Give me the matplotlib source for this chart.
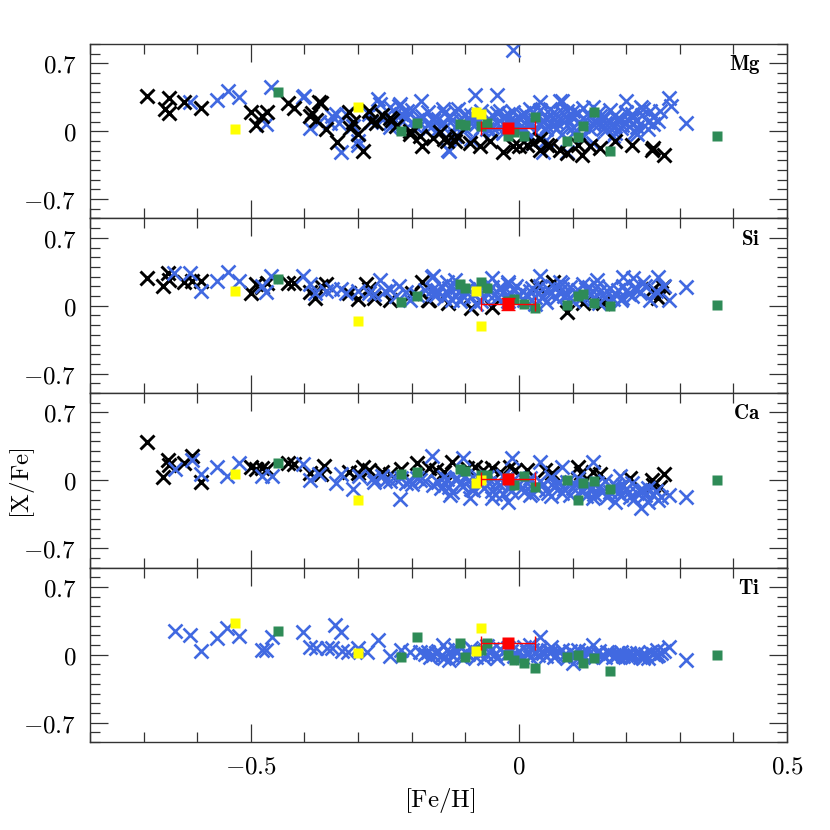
import matplotlib
matplotlib.use("Agg")
import matplotlib.pyplot as plt
from matplotlib.ticker import MultipleLocator

plt.rcParams['mathtext.fontset'] = 'cm'

# ---- data: ([Fe/H], [X/Fe]) pairs ----
elements = ['Mg', 'Si', 'Ca', 'Ti']

mg_blue = [(-0.613, 0.30), (-0.563, 0.32), (-0.543, 0.42), (-0.522, 0.35), (-0.462, 0.46),
           (-0.472, 0.07), (-0.403, 0.35), (-0.39, 0.03), (-0.372, 0.10), (-0.352, 0.09),
           (-0.341, 0.18), (-0.331, -0.21), (-0.322, 0.18), (-0.30, -0.14), (-0.275, 0.10),
           (-0.262, 0.33), (-0.26, 0.28), (-0.241, 0.25), (-0.241, 0.04), (-0.221, 0.28),
           (-0.219, 0.18), (-0.208, 0.21), (-0.182, 0.31), (-0.163, 0.05), (-0.161, 0.12),
           (-0.142, 0.23), (-0.133, -0.19), (-0.124, 0.12), (-0.114, 0.23), (-0.40, 0.36),
           (-0.348, 0.16), (-0.335, 0.09), (-0.30, -0.10), (-0.223, 0.26), (-0.167, 0.09),
           (-0.082, 0.37), (-0.079, 0.10), (-0.041, 0.37), (-0.036, 0.21), (-0.011, 0.20),
           (0.002, 0.13), (0.021, 0.23), (0.026, -0.12), (0.039, 0.30), (0.052, 0.05),
           (-0.011, 0.84), (0.08, 0.31), (0.058, 0.23), (0.101, 0.21), (0.199, 0.31),
           (0.227, 0.25), (0.245, 0.21), (0.264, 0.21), (0.279, 0.34), (0.283, 0.26),
           (0.311, 0.09), (0.251, 0.07), (0.24, 0.02), (0.221, -0.03), (0.193, 0.06),
           (0.176, 0.04), (0.157, 0.02), (-0.131, -0.20), (0.09, -0.21), (0.077, 0.31),
           (0.139, 0.25), (0.232, 0.23), (0.217, -0.01), (0.21, 0.18), (0.183, 0.13),
           (0.164, 0.02), (0.152, 0.16), (0.12, 0.05), (0.09, 0.21), (0.064, 0.05),
           (0.045, 0.12), (0.026, 0.20), (0.007, 0.16), (-0.022, 0.05), (0.045, -0.21),
           (0.139, -0.12), (0.176, -0.05),
           (-0.20, 0.10), (-0.19, 0.03), (-0.18, 0.16), (-0.17, 0.06), (-0.16, 0.14),
           (-0.15, 0.02), (-0.14, 0.09), (-0.13, 0.16), (-0.12, 0.04), (-0.11, 0.12),
           (-0.10, 0.18), (-0.10, 0.02), (-0.09, 0.08), (-0.08, 0.14), (-0.07, 0.03),
           (-0.06, 0.11), (-0.05, 0.17), (-0.05, 0.04), (-0.04, 0.09), (-0.03, 0.15),
           (-0.02, 0.10), (-0.01, 0.06), (0.00, 0.15), (0.01, 0.03), (0.02, 0.11),
           (0.03, 0.17), (0.04, 0.06), (0.05, 0.14), (0.06, 0.09), (0.07, 0.18),
           (0.07, 0.02), (0.08, 0.12), (0.09, 0.06), (0.10, 0.16), (0.11, 0.09),
           (0.12, 0.14), (0.13, 0.03), (0.14, 0.11), (0.15, 0.07), (0.16, 0.15),
           (0.17, 0.10), (0.18, 0.05), (0.19, 0.12), (0.20, 0.08), (0.21, 0.15),
           (-0.03, -0.02), (0.02, -0.05), (0.08, -0.03), (-0.12, -0.05), (-0.22, 0.12),
           (-0.25, 0.15), (-0.28, 0.18), (-0.31, 0.05), (-0.09, -0.08), (0.05, -0.09),
           (0.12, -0.06),
           (-0.24, 0.08), (-0.23, 0.19), (-0.21, 0.14), (-0.20, 0.22), (-0.19, 0.12),
           (-0.17, 0.20), (-0.15, 0.13), (-0.14, 0.19), (-0.12, 0.21), (-0.11, 0.06),
           (-0.09, 0.17), (-0.08, 0.07), (-0.07, 0.21), (-0.06, 0.02), (-0.04, 0.19),
           (-0.03, 0.07), (-0.02, 0.18), (-0.01, 0.12), (0.00, 0.03), (0.01, 0.19),
           (0.02, 0.07), (0.03, 0.12), (0.04, 0.22), (0.05, 0.02), (0.06, 0.17),
           (0.07, 0.10), (0.08, 0.20), (0.09, 0.13), (0.10, 0.04), (0.11, 0.19),
           (0.12, 0.24), (0.13, 0.16), (0.14, 0.06), (0.15, 0.20), (0.16, 0.09),
           (0.17, 0.22), (0.18, 0.17), (0.19, 0.03), (0.20, 0.20), (0.21, 0.07),
           (0.22, 0.12), (0.23, 0.17), (0.24, 0.10), (0.25, 0.15), (0.26, 0.11),
           (0.22, 0.04), (0.18, -0.02), (0.10, -0.02), (0.03, -0.01), (-0.05, -0.01),
           (-0.14, 0.03)]

mg_black = [(-0.693, 0.36), (-0.661, 0.23), (-0.653, 0.34), (-0.652, 0.19), (-0.624, 0.30),
            (-0.592, 0.24), (-0.50, 0.20), (-0.49, 0.06), (-0.48, 0.16), (-0.47, 0.20),
            (-0.43, 0.29), (-0.42, 0.24), (-0.39, 0.16), (-0.37, 0.29), (-0.385, 0.19),
            (-0.378, 0.12), (-0.36, 0.02), (-0.34, -0.11), (-0.315, 0.03), (-0.30, -0.03),
            (-0.29, -0.20), (-0.28, 0.21), (-0.275, 0.11), (-0.256, 0.17), (-0.24, 0.14),
            (-0.23, 0.05), (-0.204, -0.03), (-0.18, -0.15), (-0.16, -0.07), (-0.14, -0.08),
            (-0.12, -0.10), (-0.31, 0.10), (-0.373, 0.30), (-0.316, 0.20), (-0.266, 0.09),
            (-0.236, 0.12), (-0.204, 0.0), (-0.185, -0.05), (-0.148, -0.01), (-0.135, -0.10),
            (-0.116, -0.05), (-0.092, -0.12), (-0.073, -0.15), (-0.054, -0.10), (-0.03, -0.21),
            (-0.011, -0.15), (0.015, -0.14), (0.04, -0.19), (0.052, -0.14), (0.0, -0.15),
            (0.026, -0.12), (0.04, -0.08), (0.058, -0.15), (0.077, -0.19), (0.09, -0.22),
            (0.11, -0.14), (0.118, -0.24), (0.133, -0.15), (0.152, -0.17), (0.18, -0.10),
            (0.21, -0.14), (0.249, -0.19), (0.27, -0.25), (0.25, -0.17)]

si_blue = [(-0.644, 0.34), (-0.613, 0.34), (-0.592, 0.15), (-0.563, 0.26), (-0.543, 0.35),
           (-0.522, 0.26), (-0.48, 0.20), (-0.472, 0.14), (-0.462, 0.31), (-0.403, 0.31),
           (-0.39, 0.22), (-0.38, 0.13), (-0.36, 0.15), (-0.348, 0.17), (-0.331, 0.17),
           (-0.322, 0.13), (-0.30, 0.15), (-0.28, 0.13), (-0.26, 0.27), (-0.241, 0.17),
           (-0.223, 0.20), (-0.204, 0.06), (-0.163, 0.30), (-0.161, 0.17), (-0.161, 0.31),
           (-0.135, 0.24), (-0.12, 0.27), (-0.05, 0.29), (-0.02, 0.25), (0.039, 0.31),
           (0.077, 0.24), (0.146, 0.27), (0.195, 0.30), (0.213, 0.29), (0.232, 0.25),
           (0.26, 0.30), (0.27, 0.20), (0.279, 0.06), (0.311, 0.19), (0.245, 0.06),
           (0.221, 0.17), (0.193, 0.08), (-0.154, 0.11),
           (-0.15, 0.15), (-0.14, 0.08), (-0.13, 0.18), (-0.12, 0.11), (-0.11, 0.05),
           (-0.10, 0.15), (-0.09, 0.09), (-0.08, 0.20), (-0.07, 0.05), (-0.06, 0.13),
           (-0.05, 0.19), (-0.04, 0.08), (-0.03, 0.14), (-0.02, 0.05), (-0.01, 0.17),
           (0.00, 0.10), (0.01, 0.06), (0.02, 0.15), (0.03, 0.09), (0.04, 0.20),
           (0.05, 0.04), (0.06, 0.13), (0.07, 0.08), (0.08, 0.17), (0.09, 0.11),
           (0.10, 0.05), (0.11, 0.16), (0.12, 0.10), (0.13, 0.19), (0.14, 0.07),
           (0.15, 0.14), (0.16, 0.09), (0.17, 0.18), (0.18, 0.12), (0.19, 0.06),
           (0.20, 0.15), (0.21, 0.10), (-0.16, 0.12), (-0.02, 0.22), (0.08, 0.22),
           (0.12, 0.22), (0.03, 0.02), (-0.08, 0.02), (0.15, 0.03),
           (-0.145, 0.20), (-0.135, 0.13), (-0.125, 0.06), (-0.115, 0.19), (-0.105, 0.10),
           (-0.095, 0.17), (-0.085, 0.12), (-0.075, 0.15), (-0.065, 0.08), (-0.055, 0.16),
           (-0.045, 0.12), (-0.035, 0.19), (-0.025, 0.10), (-0.015, 0.12), (-0.005, 0.20),
           (0.005, 0.15), (0.015, 0.11), (0.025, 0.18), (0.035, 0.13), (0.045, 0.09),
           (0.055, 0.17), (0.065, 0.19), (0.075, 0.14), (0.085, 0.10), (0.095, 0.19),
           (0.105, 0.14), (0.115, 0.08), (0.125, 0.17), (0.135, 0.12), (0.145, 0.20),
           (0.155, 0.11), (0.165, 0.15), (0.175, 0.07), (0.185, 0.16), (0.195, 0.20),
           (0.205, 0.12), (0.215, 0.18), (0.225, 0.13), (0.235, 0.20), (0.255, 0.15),
           (-0.175, 0.16), (-0.19, 0.11), (-0.21, 0.14), (-0.23, 0.10), (-0.25, 0.15),
           (-0.27, 0.12)]

si_black = [(-0.693, 0.29), (-0.663, 0.20), (-0.655, 0.34), (-0.652, 0.27), (-0.624, 0.24),
            (-0.61, 0.26), (-0.592, 0.26), (-0.50, 0.13), (-0.49, 0.22), (-0.48, 0.19),
            (-0.47, 0.23), (-0.43, 0.23), (-0.42, 0.23), (-0.39, 0.14), (-0.38, 0.08),
            (-0.37, 0.20), (-0.36, 0.22), (-0.316, 0.13), (-0.30, 0.07), (-0.285, 0.22),
            (-0.28, 0.17), (-0.27, 0.08), (-0.24, 0.06), (-0.18, 0.25), (-0.20, 0.13),
            (-0.17, 0.06), (-0.167, 0.06), (-0.133, 0.03), (-0.09, -0.02), (-0.05, -0.01),
            (0.034, 0.20), (0.064, 0.24), (0.09, -0.06), (0.12, 0.03), (0.157, 0.03),
            (0.25, 0.17), (0.265, 0.13), (0.268, 0.19), (0.26, 0.08)]

ca_blue = [(-0.642, 0.12), (-0.61, 0.21), (-0.592, 0.06), (-0.563, 0.14), (-0.545, 0.04),
           (-0.522, 0.18), (-0.48, 0.04), (-0.461, 0.04), (-0.403, 0.17), (-0.39, 0.0),
           (-0.372, 0.06), (-0.341, -0.03), (-0.331, 0.06), (-0.31, -0.09), (-0.298, 0.04),
           (-0.273, 0.02), (-0.256, 0.04), (-0.241, -0.01), (-0.221, -0.19), (-0.204, -0.01),
           (-0.185, 0.0), (-0.163, 0.25), (-0.161, -0.05), (-0.105, 0.23), (-0.013, 0.23),
           (0.039, 0.19), (0.08, 0.14), (0.139, 0.19), (0.189, 0.04), (-0.129, -0.15),
           (-0.092, -0.18), (-0.05, -0.18), (-0.02, -0.22), (0.021, -0.15), (0.139, -0.18),
           (0.18, -0.22), (0.208, -0.17), (0.227, -0.29), (0.24, -0.22), (0.26, -0.20),
           (0.279, -0.15), (0.311, -0.17), (0.232, -0.10), (0.183, -0.08),
           (-0.15, -0.02), (-0.14, 0.03), (-0.13, -0.07), (-0.12, 0.01), (-0.11, -0.04),
           (-0.10, 0.04), (-0.09, -0.09), (-0.08, 0.0), (-0.07, -0.05), (-0.06, 0.03),
           (-0.05, -0.11), (-0.04, -0.02), (-0.03, 0.04), (-0.02, -0.07), (-0.01, 0.01),
           (0.00, -0.04), (0.01, -0.12), (0.02, 0.02), (0.03, -0.06), (0.04, -0.01),
           (0.05, -0.10), (0.06, 0.03), (0.07, -0.05), (0.08, -0.13), (0.09, -0.02),
           (0.10, -0.08), (0.11, 0.02), (0.12, -0.11), (0.13, -0.04), (0.14, -0.14),
           (0.15, -0.07), (0.16, -0.01), (0.17, -0.12), (0.18, -0.05), (0.19, -0.15),
           (0.20, -0.09), (0.21, -0.03), (0.22, -0.13), (0.24, -0.08), (0.25, -0.15),
           (-0.20, -0.04), (-0.22, 0.02), (-0.27, -0.02), (0.06, -0.16), (-0.03, -0.14),
           (-0.145, -0.08), (-0.135, 0.01), (-0.125, -0.12), (-0.115, 0.02), (-0.105, -0.06),
           (-0.095, -0.01), (-0.085, -0.10), (-0.075, 0.02), (-0.065, -0.08), (-0.055, -0.03),
           (-0.045, -0.14), (-0.035, -0.05), (-0.025, 0.01), (-0.015, -0.11), (-0.005, -0.02),
           (0.005, -0.08), (0.015, -0.03), (0.025, -0.13), (0.035, -0.09), (0.045, -0.04),
           (0.055, -0.13), (0.065, -0.07), (0.075, -0.02), (0.085, -0.09), (0.095, -0.15),
           (0.105, -0.04), (0.115, -0.10), (0.125, -0.16), (0.135, -0.08), (0.145, -0.03),
           (0.155, -0.12), (0.165, -0.17), (0.175, -0.09), (0.185, -0.13), (0.195, -0.05),
           (0.205, -0.12), (0.215, -0.19), (0.225, -0.10), (0.235, -0.15), (0.255, -0.11),
           (0.265, -0.17), (-0.175, -0.01), (-0.19, 0.02), (-0.21, -0.03), (-0.23, 0.01),
           (-0.25, -0.01)]

ca_black = [(-0.693, 0.39), (-0.663, 0.03), (-0.655, 0.21), (-0.652, 0.16), (-0.624, 0.18),
            (-0.61, 0.25), (-0.592, -0.02), (-0.50, 0.14), (-0.49, 0.12), (-0.48, 0.13),
            (-0.47, 0.12), (-0.43, 0.18), (-0.42, 0.17), (-0.39, 0.08), (-0.363, 0.15),
            (-0.37, 0.06), (-0.316, 0.09), (-0.30, 0.08), (-0.29, 0.14), (-0.28, 0.11),
            (-0.256, 0.09), (-0.24, 0.06), (-0.22, 0.12), (-0.19, 0.18), (-0.167, 0.13),
            (-0.154, 0.11), (-0.14, 0.09), (-0.124, 0.19), (-0.097, 0.13), (-0.082, 0.14),
            (-0.067, 0.11), (-0.05, 0.13), (-0.036, 0.09), (-0.017, 0.14), (-0.007, 0.11),
            (0.015, 0.11), (0.049, 0.11), (0.062, 0.08), (0.11, 0.14), (0.115, 0.08),
            (0.139, 0.09), (0.152, 0.06), (0.208, 0.02), (0.249, 0.0), (0.27, 0.06),
            (0.264, -0.07), (0.25, -0.05)]

ti_blue = [(-0.642, 0.25), (-0.613, 0.20), (-0.592, 0.04), (-0.563, 0.17), (-0.545, 0.28),
           (-0.522, 0.19), (-0.48, 0.05), (-0.472, 0.05), (-0.461, 0.18), (-0.403, 0.23),
           (-0.39, 0.08), (-0.378, 0.07), (-0.358, 0.07), (-0.348, 0.07), (-0.343, 0.31),
           (-0.331, 0.23), (-0.33, 0.04), (-0.318, 0.03), (-0.30, 0.07), (-0.283, 0.03),
           (-0.262, 0.15), (-0.241, -0.01), (-0.219, 0.05), (-0.204, 0.03), (-0.185, 0.03),
           (-0.17, 0.03), (-0.154, 0.02), (-0.142, 0.10), (0.039, 0.18), (0.101, -0.08),
           (0.139, 0.10), (0.208, -0.02), (0.232, -0.03), (0.258, 0.05), (0.279, 0.08),
           (0.311, -0.05), (0.245, 0.03), (0.183, 0.0),
           (-0.16, 0.0), (-0.15, 0.04), (-0.14, -0.03), (-0.13, 0.03), (-0.12, 0.06),
           (-0.11, -0.01), (-0.10, 0.03), (-0.09, 0.07), (-0.08, -0.02), (-0.07, 0.04),
           (-0.06, 0.0), (-0.05, 0.06), (-0.04, -0.03), (-0.03, 0.03), (-0.02, 0.07),
           (-0.01, -0.01), (0.00, 0.04), (0.01, 0.08), (0.02, -0.02), (0.03, 0.03),
           (0.04, 0.06), (0.05, -0.01), (0.06, 0.03), (0.07, 0.0), (0.08, 0.05),
           (0.09, -0.03), (0.10, 0.02), (0.11, 0.05), (0.12, -0.02), (0.13, 0.02),
           (0.14, 0.0), (0.15, 0.04), (0.16, -0.02), (0.17, 0.02), (0.18, -0.01),
           (0.19, 0.03), (0.20, 0.0), (0.21, -0.02), (0.22, 0.02), (0.23, 0.0),
           (0.24, -0.03), (0.25, 0.01), (0.26, 0.0), (0.27, 0.04), (0.02, 0.10),
           (-0.06, 0.09), (0.06, 0.08), (-0.13, -0.05),
           (-0.175, 0.01), (-0.165, -0.02), (-0.155, 0.02), (-0.145, -0.01), (-0.135, 0.05),
           (-0.125, 0.0), (-0.115, 0.03), (-0.105, -0.03), (-0.095, 0.01), (-0.085, 0.05),
           (-0.075, 0.01), (-0.065, -0.03), (-0.055, 0.03), (-0.045, 0.01), (-0.035, 0.06),
           (-0.025, 0.0), (-0.015, 0.04), (-0.005, 0.01), (0.005, -0.02), (0.015, 0.03),
           (0.025, 0.05), (0.035, 0.0), (0.045, 0.02), (0.055, 0.05), (0.065, -0.02),
           (0.075, 0.03), (0.085, 0.0), (0.095, 0.04), (0.105, -0.01), (0.115, 0.02),
           (0.125, 0.04), (0.135, -0.02), (0.145, 0.02), (0.155, 0.0), (0.165, 0.03),
           (0.175, -0.02), (0.185, 0.02), (0.195, -0.01), (0.205, 0.02), (0.215, 0.0),
           (0.225, -0.02), (0.235, 0.01), (0.255, -0.01), (0.265, 0.02)]

ti_black = []

green_feh = [-0.45, -0.22, -0.19, -0.11, -0.10, -0.07, -0.06, -0.02, -0.01, 0.01, 0.03,
             0.09, 0.11, 0.12, 0.14, 0.17, 0.37]
green_mg = [0.40, 0.00, 0.08, 0.07, 0.06, 0.05, 0.08, -0.05, -0.01, -0.05, 0.15,
            -0.10, -0.06, 0.05, 0.20, -0.20, -0.05]
green_si = [0.28, 0.04, 0.10, 0.22, 0.18, 0.24, 0.18, 0.05, 0.07, 0.02, -0.02,
            0.01, 0.10, 0.12, 0.03, 0.00, 0.01]
green_ca = [0.18, 0.06, 0.09, 0.12, 0.10, 0.05, 0.05, 0.02, -0.05, 0.04, -0.07,
            0.00, -0.20, -0.03, -0.01, -0.09, 0.00]
green_ti = [0.24, -0.02, 0.18, 0.12, -0.02, 0.05, 0.12, 0.00, -0.05, -0.09, -0.14,
            -0.02, 0.00, -0.08, -0.03, -0.17, 0.00]

yellow_feh = [-0.53, -0.30, -0.08, -0.07]
yellow_mg = [0.02, 0.25, 0.20, 0.18]
yellow_si = [0.15, -0.155, 0.15, -0.21]
yellow_ca = [0.06, -0.20, -0.03, 0.00]
yellow_ti = [0.33, 0.02, 0.04, 0.28]

sun_feh = -0.02
sun_feh_err = 0.05
sun_vals = [0.03, 0.02, 0.015, 0.12]
sun_val_err = [0.0, 0.065, 0.0, 0.0]

blue_sets = [mg_blue, si_blue, ca_blue, ti_blue]
black_sets = [mg_black, si_black, ca_black, ti_black]
green_sets = [green_mg, green_si, green_ca, green_ti]
yellow_sets = [yellow_mg, yellow_si, yellow_ca, yellow_ti]

fig, axes = plt.subplots(4, 1, figsize=(8.3, 8.3), dpi=100, sharex=True)
fig.subplots_adjust(left=0.1084, right=0.9482, top=0.947, bottom=0.106, hspace=0)

for i, ax in enumerate(axes):
    bx, by = zip(*blue_sets[i])
    # black on top only in the Mg panel
    z_blue, z_black = (2, 3) if i == 0 else (3, 2)
    ax.plot(bx, by, ls='none', marker='x', ms=10, mew=1.9, color='royalblue', zorder=z_blue)
    if black_sets[i]:
        kx, ky = zip(*black_sets[i])
        ax.plot(kx, ky, ls='none', marker='x', ms=9.5, mew=2.1, color='black', zorder=z_black)
    ax.plot(green_feh, green_sets[i], ls='none', marker='s', ms=7, color='seagreen',
            mec='none', zorder=4)
    ax.plot(yellow_feh, yellow_sets[i], ls='none', marker='s', ms=7.5, color='yellow',
            mec='none', zorder=4)
    ax.errorbar(sun_feh, sun_vals[i], xerr=sun_feh_err,
                yerr=sun_val_err[i] if sun_val_err[i] > 0 else None,
                fmt='s', ms=8, color='red', mec='none', ecolor='red', elinewidth=1,
                capsize=5, capthick=1, zorder=5)

    ax.set_xlim(-0.8, 0.5)
    ax.set_ylim(-0.9, 0.9)
    ax.set_yticks([-0.7, 0, 0.7], labels=[r'$-0.7$', r'$0$', r'$0.7$'])
    ax.yaxis.set_minor_locator(MultipleLocator(0.1))
    ax.xaxis.set_minor_locator(MultipleLocator(0.1))
    ax.tick_params(which='both', direction='in', top=True, right=True, width=0.9,
                   color='#333333')
    ax.tick_params(which='major', length=13, labelsize=18, pad=10)
    ax.tick_params(which='minor', length=7)
    for s in ax.spines.values():
        s.set_color('#333333')
        s.set_linewidth(1.0)
    ax.text(0.962, 0.885, r'$\mathbf{%s}$' % elements[i], transform=ax.transAxes,
            ha='right', va='center', fontsize=15)

axes[-1].set_xticks([-0.5, 0, 0.5], labels=[r'$-0.5$', r'$0$', r'$0.5$'])
axes[-1].tick_params(axis='x', which='major', pad=9)

fig.text(0.53, 1 - 800 / 830, r'$[\mathrm{Fe/H}]$', ha='center', va='center', fontsize=18)
fig.text(0.027, 1 - 483 / 830, r'$[\mathrm{X/Fe}]$', ha='center', va='center',
         fontsize=18, rotation=90)

fig.savefig('out.png', dpi=100)
